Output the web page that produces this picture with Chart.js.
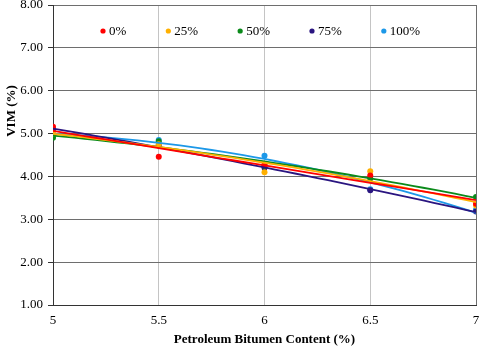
<!DOCTYPE html>
<html>
<head>
<meta charset="utf-8">
<script src="https://cdn.jsdelivr.net/npm/chart.js@4.4.1/dist/chart.umd.min.js"></script>
<style>
  html, body { margin: 0; padding: 0; background: #fff; }
  #wrap { width: 480px; height: 347px; }
</style>
</head>
<body>
<div id="wrap"><canvas id="vimChart" width="480" height="347"></canvas></div>
<script>
// bitumen content (%) on the x axis
var bitumen = [5, 5.5, 6, 6.5, 7];
var seriesNames = ['0%', '25%', '50%', '75%', '100%'];
var vim0 = [5.16, 4.46, 4.28, 4.02, 3.36];
var vim25 = [5.00, 4.75, 4.10, 4.12, 3.32];
var vim50 = [4.90, 4.82, 4.25, 3.95, 3.52];
var vim75 = [5.10, 4.72, 4.20, 3.68, 3.18];
var vim100 = [4.95, 4.85, 4.48, 3.70, 3.22];
var yTicks = [1, 2, 3, 4, 5, 6, 7, 8];
var xTicks = [5, 5.5, 6, 6.5, 7];

var colors = ['#ff0000', '#ffb000', '#0a8a1a', '#2a1580', '#1c98e8'];
var allSeries = [vim0, vim25, vim50, vim75, vim100];

// least squares 2nd order polynomial (like the spreadsheet trendline)
function polyFit(xs, ys) {
    var n = xs.length, sx = 0, sx2 = 0, sx3 = 0, sx4 = 0, sy = 0, sxy = 0, sx2y = 0;
    for (var i = 0; i < n; i++) {
        var x = xs[i], y = ys[i];
        sx += x; sx2 += x * x; sx3 += x * x * x; sx4 += x * x * x * x;
        sy += y; sxy += x * y; sx2y += x * x * y;
    }
    var m = [[n, sx, sx2, sy], [sx, sx2, sx3, sxy], [sx2, sx3, sx4, sx2y]];
    for (var c = 0; c < 3; c++) {
        for (var r = c + 1; r < 3; r++) {
            var f = m[r][c] / m[c][c];
            for (var k = c; k < 4; k++) m[r][k] -= f * m[c][k];
        }
    }
    var coef = [0, 0, 0];
    for (var r2 = 2; r2 >= 0; r2--) {
        var s = m[r2][3];
        for (var k2 = r2 + 1; k2 < 3; k2++) s -= m[r2][k2] * coef[k2];
        coef[r2] = s / m[r2][r2];
    }
    return coef;
}

function trendPoints(ys) {
    var c = polyFit(bitumen, ys), pts = [];
    for (var i = 0; i <= 40; i++) {
        var x = bitumen[0] + (bitumen[bitumen.length - 1] - bitumen[0]) * i / 40;
        pts.push({x: x, y: c[0] + c[1] * x + c[2] * x * x});
    }
    return pts;
}

var datasets = [];
allSeries.forEach(function(ys, i) {
    datasets.push({
        label: seriesNames[i] + ' trend',
        data: trendPoints(ys),
        showLine: true,
        borderColor: colors[i],
        borderWidth: 1.8,
        pointRadius: 0
    });
});
allSeries.forEach(function(ys, i) {
    datasets.push({
        label: seriesNames[i],
        data: bitumen.map(function(x, j) { return {x: x, y: ys[j]}; }),
        backgroundColor: colors[i],
        borderColor: colors[i],
        pointRadius: 3,
        pointBorderWidth: 0,
        showLine: false
    });
});

const serif = "'Liberation Serif', 'Times New Roman', serif";

// legend drawn inside the plot area, plus the y axis title
const insideLegend = {
    id: 'insideLegend',
    afterDraw(chart) {
        var ctx = chart.ctx, area = chart.chartArea;
        ctx.save();
        ctx.font = '13px ' + serif;
        ctx.textBaseline = 'middle';
        var x = area.left + 50, y = 31;
        seriesNames.forEach(function(name, i) {
            ctx.beginPath();
            ctx.fillStyle = colors[i];
            ctx.arc(x, y, 2.6, 0, Math.PI * 2);
            ctx.fill();
            ctx.fillStyle = '#000';
            ctx.textAlign = 'left';
            ctx.fillText(name, x + 6, y + 1);
            x += 6 + ctx.measureText(name).width + 42;
        });
        // y axis title
        ctx.translate(12, 111);
        ctx.rotate(-Math.PI / 2);
        ctx.font = 'bold 13px ' + serif;
        ctx.textAlign = 'center';
        ctx.fillStyle = '#000';
        ctx.fillText('VIM (%)', 0, 0);
        ctx.restore();
    }
};

new Chart(document.getElementById('vimChart').getContext('2d'), {
    type: 'scatter',
    data: { datasets: datasets },
    plugins: [insideLegend],
    options: {
        responsive: false,
        animation: false,
        layout: { padding: { top: 5, right: 4, left: 0, bottom: 0 } },
        plugins: {
            legend: { display: false },
            tooltip: { enabled: false }
        },
        scales: {
            x: {
                type: 'linear',
                min: xTicks[0],
                max: xTicks[xTicks.length - 1],
                afterBuildTicks: function(s) { s.ticks = xTicks.map(function(v) { return {value: v}; }); },
                afterFit: function(s) { s.height = 42; s.paddingLeft = 0; s.paddingRight = 0; },
                border: { color: '#333', width: 1 },
                grid: {
                    drawTicks: false,
                    color: function(c) {
                        if (c.tick && c.tick.value === 7) return '#6e6e6e';
                        return '#c4c4c4';
                    },
                    lineWidth: 1
                },
                ticks: {
                    padding: 8,
                    color: '#000',
                    font: { family: serif, size: 13 },
                    callback: function(v) { return String(v); }
                },
                title: {
                    display: true,
                    text: 'Petroleum Bitumen Content (%)',
                    color: '#000',
                    font: { family: serif, size: 13, weight: 'bold' },
                    padding: { top: 2, bottom: 0 }
                }
            },
            y: {
                min: yTicks[0],
                max: yTicks[yTicks.length - 1],
                afterBuildTicks: function(s) { s.ticks = yTicks.map(function(v) { return {value: v}; }); },
                afterFit: function(s) { s.width = 53; s.paddingTop = 0; s.paddingBottom = 0; },
                border: { color: '#333', width: 1 },
                grid: {
                    color: '#6e6e6e',
                    tickColor: '#333',
                    tickLength: 5,
                    lineWidth: 1
                },
                ticks: {
                    padding: 5,
                    color: '#000',
                    font: { family: serif, size: 13 },
                    callback: function(v) { return v.toFixed(2); }
                }
            }
        }
    }
});
</script>
</body>
</html>
